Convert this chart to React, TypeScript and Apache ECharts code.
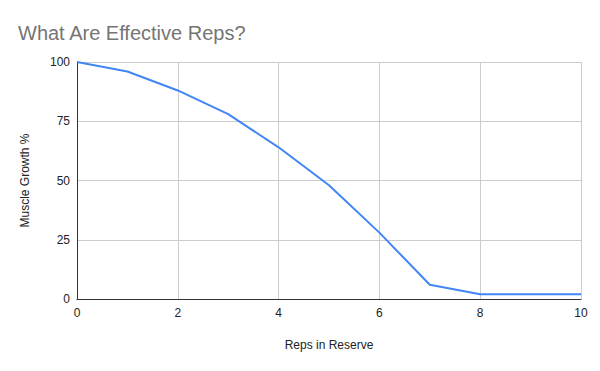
import React, { useEffect, useRef } from "react";
import * as echarts from "echarts";

const repsInReserve = [0, 1, 2, 3, 4, 5, 6, 7, 8, 9, 10];
const muscleGrowth = [100, 96, 88, 78, 64, 48, 28, 6, 2, 2, 2];
const titleText = "What Are Effective Reps?";
const xName = "Reps in Reserve";
const yName = "Muscle Growth %";

export default function App() {
  const ref = useRef<HTMLDivElement>(null);
  useEffect(() => {
    if (!ref.current) return;
    const chart = echarts.init(ref.current, null, { renderer: "svg" });
    const font = "Arial, 'Liberation Sans', sans-serif";
    chart.setOption({
      animation: false,
      backgroundColor: "#ffffff",
      title: {
        text: titleText,
        left: 13,
        top: 18,
        textStyle: { fontFamily: font, fontSize: 20, fontWeight: "normal", color: "#757575" },
      },
      grid: { left: 77, right: 19, top: 62, bottom: 72 },
      xAxis: {
        type: "value",
        min: 0,
        max: 10,
        interval: 2,
        name: xName,
        nameLocation: "middle",
        nameGap: 40,
        nameTextStyle: { fontFamily: font, fontSize: 12, color: "#222222" },
        axisLine: { show: true, lineStyle: { color: "#333333", width: 1 } },
        axisTick: { show: false },
        axisLabel: { fontFamily: font, fontSize: 12, color: "#222222", margin: 8 },
        splitLine: { show: true, lineStyle: { color: "#cccccc", width: 1 } },
      },
      yAxis: {
        type: "value",
        min: 0,
        max: 100,
        interval: 25,
        name: yName,
        nameLocation: "middle",
        nameGap: 46,
        nameTextStyle: { fontFamily: font, fontSize: 12, color: "#222222" },
        axisLine: { show: true, lineStyle: { color: "#333333", width: 1 } },
        axisTick: { show: false },
        axisLabel: { fontFamily: font, fontSize: 12, color: "#222222", margin: 7 },
        splitLine: { show: true, lineStyle: { color: "#cccccc", width: 1 } },
      },
      series: [
        {
          type: "line",
          data: repsInReserve.map((r, i) => [r, muscleGrowth[i]]),
          showSymbol: false,
          symbol: "none",
          lineStyle: { color: "#4285F4", width: 2 },
          itemStyle: { color: "#4285F4" },
        },
      ],
    });
    return () => chart.dispose();
  }, []);
  return <div ref={ref} style={{ width: 600, height: 371, position: "absolute", left: 0, top: 0 }} />;
}
